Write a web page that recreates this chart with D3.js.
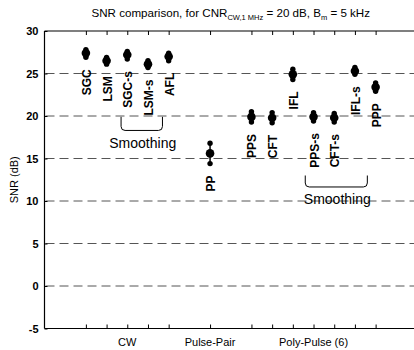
<!DOCTYPE html>
<html><head><meta charset="utf-8">
<script src="https://cdn.jsdelivr.net/npm/d3@7"></script>
<style>
html,body{margin:0;padding:0;background:#fff;}
svg{display:block;font-family:"Liberation Sans",Arial,sans-serif;}
</style></head>
<body>
<svg id="chart" width="414" height="350"></svg>
<script>
// ---- data ----
const methods = ["SGC","LSM","SGC-s","LSM-s","AFL","PP","PPS","CFT","IFL","PPS-s","CFT-s","IFL-s","PPP"];
const slots   = [2,3,4,5,6,8,10,11,12,13,14,15,16];
const snrMean = [27.4,26.5,27.2,26.1,27.0,15.6,19.9,19.8,24.9,19.9,19.8,25.3,23.4];
const snrMin  = [26.9,26.1,26.7,25.7,26.5,14.4,19.3,19.2,24.3,19.4,19.3,24.9,22.9];
const snrMax  = [27.8,26.9,27.6,26.5,27.4,16.8,20.5,20.4,25.5,20.4,20.3,25.7,23.9];
const groups       = ["CW","Pulse-Pair","Poly-Pulse (6)"];
const groupCenters = [4,8,13];
const yTicks = [-5,0,5,10,15,20,25,30];
const gridValues = [0,5,10,15,20,25];
const smoothFrom = [3.7,12.6];
const smoothTo   = [5.7,15.6];
const smoothTop  = [19.9,13.0];
const smoothBot  = [18.3,11.65];
const smoothText = [16.2,9.6];

// ---- layout ----
const svg = d3.select("#chart");
const x = d3.scaleLinear().domain([0,18]).range([44.5,417]);
const y = d3.scaleLinear().domain([-5,30]).range([328.5,31]);

// gridlines
svg.append("g").selectAll("line").data(gridValues).join("line")
  .attr("x1",x(0)).attr("x2",x(18))
  .attr("y1",d=>y(d)).attr("y2",d=>y(d))
  .attr("stroke","#555").attr("stroke-width",1)
  .attr("stroke-dasharray","9,5").attr("stroke-dashoffset",-1);

// frame
svg.append("line").attr("x1",x(0)).attr("x2",x(0)).attr("y1",y(30)).attr("y2",y(-5)).attr("stroke","#000").attr("stroke-width",1.2);
svg.append("line").attr("x1",x(0)).attr("x2",x(18)).attr("y1",y(30)).attr("y2",y(30)).attr("stroke","#000").attr("stroke-width",1.2);
svg.append("line").attr("x1",x(0)).attr("x2",x(18)).attr("y1",y(-5)).attr("y2",y(-5)).attr("stroke","#000").attr("stroke-width",1.2);

// axes
const yAxis = d3.axisLeft(y).tickValues(yTicks).tickSize(-3).tickPadding(6).tickFormat(d=>String(d));
const gy = svg.append("g").attr("transform",`translate(${x(0)},0)`).call(yAxis);
gy.select(".domain").remove();
gy.selectAll("text").attr("font-size",11).attr("font-weight","bold").attr("font-family","Liberation Sans, Arial, sans-serif").attr("fill","#000");
gy.selectAll("line").attr("stroke","#000");

const xTop = d3.axisTop(x).tickValues(slots).tickSize(-4).tickFormat("");
const gt = svg.append("g").attr("transform",`translate(0,${y(30)})`).call(xTop);
gt.select(".domain").remove();
gt.selectAll("line").attr("stroke","#000");
const xBot = d3.axisBottom(x).tickValues(slots).tickSize(-4).tickFormat("");
const gb = svg.append("g").attr("transform",`translate(0,${y(-5)})`).call(xBot);
gb.select(".domain").remove();
gb.selectAll("line").attr("stroke","#000");

// group labels
svg.append("g").selectAll("text").data(groups).join("text")
  .attr("x",(d,i)=>x(groupCenters[i])).attr("y",346)
  .attr("text-anchor","middle").attr("font-size",11).text(d=>d);

// markers
const items = methods.map((m,i)=>({m,s:slots[i],mean:snrMean[i],lo:snrMin[i],hi:snrMax[i]}));
const mk = svg.append("g");
mk.selectAll("line").data(items).join("line")
  .attr("x1",d=>x(d.s)).attr("x2",d=>x(d.s))
  .attr("y1",d=>y(d.hi)).attr("y2",d=>y(d.lo))
  .attr("stroke","#000").attr("stroke-width",1.5);
mk.selectAll("circle.hi").data(items).join("circle").attr("class","hi")
  .attr("cx",d=>x(d.s)).attr("cy",d=>y(d.hi)).attr("r",2.7);
mk.selectAll("circle.lo").data(items).join("circle").attr("class","lo")
  .attr("cx",d=>x(d.s)).attr("cy",d=>y(d.lo)).attr("r",2.7);
mk.selectAll("circle.mean").data(items).join("circle").attr("class","mean")
  .attr("cx",d=>x(d.s)).attr("cy",d=>y(d.mean)).attr("r",4.3);

// method labels
svg.append("g").selectAll("text").data(items).join("text")
  .attr("transform",d=>`translate(${x(d.s)+5},${y(d.lo)+12}) rotate(-90)`)
  .attr("text-anchor","end").attr("font-size",12).attr("font-weight","bold")
  .text(d=>d.m);

// smoothing brackets
smoothFrom.forEach((f,i)=>{
  const x0=x(f), x1=x(smoothTo[i]), yt=y(smoothTop[i]), yb=y(smoothBot[i]), r=4;
  svg.append("path")
    .attr("d",`M${x0},${yt} L${x0},${yb-r} Q${x0},${yb} ${x0+r},${yb} L${x1-r},${yb} Q${x1},${yb} ${x1},${yb-r} L${x1},${yt}`)
    .attr("fill","none").attr("stroke","#000").attr("stroke-width",1);
  svg.append("text").attr("x",(x0+x1)/2+1).attr("y",y(smoothText[i]))
    .attr("text-anchor","middle").attr("font-size",14).text("Smoothing");
});

// title
const title = svg.append("text").attr("x",(x(0)+x(18))/2).attr("y",17)
  .attr("text-anchor","middle").attr("font-size",11.6);
title.append("tspan").text("SNR comparison, for CNR");
title.append("tspan").attr("font-size",7.5).attr("dy",3).text("CW,1 MHz");
title.append("tspan").attr("dy",-3).text(" = 20 dB, B");
title.append("tspan").attr("font-size",7.5).attr("dy",3).text("m");
title.append("tspan").attr("dy",-3).text(" = 5 kHz");

// y title
svg.append("text").attr("transform",`translate(18,${(y(30)+y(-5))/2}) rotate(-90)`)
  .attr("text-anchor","middle").attr("font-size",11).text("SNR (dB)");
</script>
</body></html>
